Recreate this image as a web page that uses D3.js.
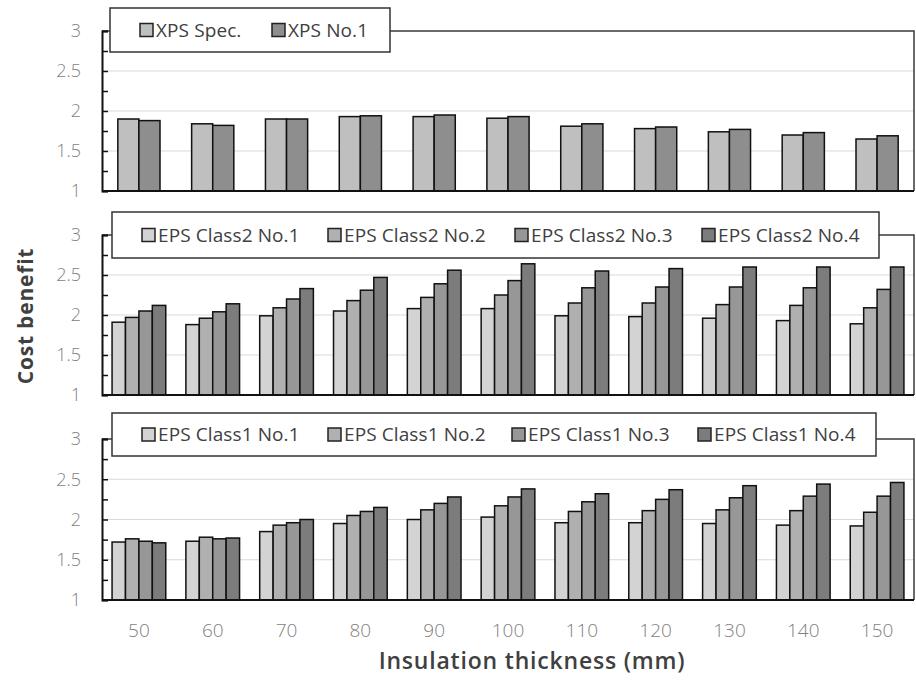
<!DOCTYPE html>
<html>
<head>
<meta charset="utf-8">
<script src="https://cdn.jsdelivr.net/npm/d3@7"></script>
<style>
  html, body { margin: 0; padding: 0; background: #fff; }
  svg { display: block; }
</style>
</head>
<body>
<svg id="chart" width="916" height="687"></svg>
<script>
// ---------- DATA ----------
const thickness = ["50","60","70","80","90","100","110","120","130","140","150"];
const yTicks = [1, 1.5, 2, 2.5, 3];

const xpsNames = ["XPS Spec.", "XPS No.1"];
const xpsSpec = [1.90,1.84,1.90,1.93,1.93,1.91,1.81,1.78,1.74,1.70,1.65];
const xpsNo1  = [1.88,1.82,1.90,1.94,1.95,1.93,1.84,1.80,1.77,1.73,1.69];

const eps2Names = ["EPS Class2 No.1","EPS Class2 No.2","EPS Class2 No.3","EPS Class2 No.4"];
const eps2No1 = [1.91,1.88,1.99,2.05,2.08,2.08,1.99,1.98,1.96,1.93,1.89];
const eps2No2 = [1.97,1.96,2.09,2.18,2.22,2.25,2.15,2.15,2.13,2.12,2.09];
const eps2No3 = [2.05,2.04,2.20,2.31,2.39,2.43,2.34,2.35,2.35,2.34,2.32];
const eps2No4 = [2.12,2.14,2.33,2.47,2.56,2.64,2.55,2.58,2.60,2.60,2.60];

const eps1Names = ["EPS Class1 No.1","EPS Class1 No.2","EPS Class1 No.3","EPS Class1 No.4"];
const eps1No1 = [1.72,1.73,1.85,1.95,2.00,2.03,1.96,1.96,1.95,1.93,1.92];
const eps1No2 = [1.76,1.78,1.93,2.05,2.12,2.17,2.10,2.11,2.12,2.11,2.09];
const eps1No3 = [1.73,1.76,1.96,2.10,2.20,2.28,2.22,2.25,2.27,2.29,2.29];
const eps1No4 = [1.71,1.77,2.00,2.15,2.28,2.38,2.32,2.37,2.42,2.44,2.46];

// ---------- LAYOUT ----------
const svg = d3.select("#chart");
const left = 102, right = 914;
const FONT = "'Open Sans', 'Noto Sans', sans-serif";

const panels = [
  { names: xpsNames, series: [xpsSpec, xpsNo1], colors: ["#bfbfbf", "#8e8e8e"],
    top: 31, bottom: 191, legend: { x: 110, y: 8, w: 280, h: 44, items: [140, 272] } },
  { names: eps2Names, series: [eps2No1, eps2No2, eps2No3, eps2No4],
    colors: ["#d3d3d3", "#b0b0b0", "#979797", "#7c7c7c"],
    top: 235, bottom: 395, legend: { x: 112, y: 212, w: 767, h: 46, items: [142, 328, 515, 702] } },
  { names: eps1Names, series: [eps1No1, eps1No2, eps1No3, eps1No4],
    colors: ["#d3d3d3", "#b0b0b0", "#979797", "#7c7c7c"],
    top: 439, bottom: 600, legend: { x: 112, y: 413, w: 764, h: 43, items: [142, 328, 512, 698] } }
];

const x0 = d3.scaleBand().domain(thickness).range([left, right]).padding(0);
const bw = x0.bandwidth();

panels.forEach(p => {
  const g = svg.append("g");
  const y = d3.scaleLinear().domain([1, 3]).range([p.bottom, p.top]);
  const n = p.series.length;
  const w = bw / (n + 1.5);
  const x1 = d3.scaleBand().domain(d3.range(n)).range([(bw - n * w) / 2, (bw + n * w) / 2]).padding(0);

  // gridlines
  g.append("g").selectAll("line").data(yTicks.filter(t => t > 1 && t < 3)).join("line")
    .attr("x1", left).attr("x2", right)
    .attr("y1", d => y(d)).attr("y2", d => y(d))
    .attr("stroke", "#d9d9d9").attr("stroke-width", 1.2);

  // plot border (top + right)
  g.append("path")
    .attr("d", `M${left},${y(3)}H${right}V${y(1)}`)
    .attr("fill", "none").attr("stroke", "#3a3a3a").attr("stroke-width", 1.5);

  // bars
  const rows = thickness.map((t, i) => ({ t, vals: p.series.map(s => s[i]) }));
  g.append("g").selectAll("g").data(rows).join("g")
    .attr("transform", d => `translate(${x0(d.t)},0)`)
    .selectAll("rect").data(d => d.vals.map((v, k) => ({ v, k }))).join("rect")
    .attr("x", d => x1(d.k)).attr("width", x1.bandwidth())
    .attr("y", d => y(d.v)).attr("height", d => y(1) - y(d.v))
    .attr("fill", d => p.colors[d.k]).attr("stroke", "#111").attr("stroke-width", 1.5);

  // y axis with inner minor ticks
  const yAxis = d3.axisRight(y).tickValues(d3.range(1, 3.01, 0.25)).tickSize(6).tickFormat("");
  const ya = g.append("g").attr("transform", `translate(${left},0)`).call(yAxis);
  ya.select(".domain").attr("stroke", "#111").attr("stroke-width", 2);
  ya.selectAll(".tick line").attr("stroke", "#111").attr("stroke-width", 1.5);

  // y tick labels
  const yl = d3.axisLeft(y).tickValues(yTicks).tickSize(0).tickPadding(0).tickFormat(d3.format("~g"));
  const yla = g.append("g").attr("transform", `translate(81,0)`).call(yl);
  yla.select(".domain").remove();
  yla.selectAll("text").attr("font-family", FONT).attr("font-weight", 300)
    .attr("font-size", 18).attr("fill", "#7f7f7f");

  // baseline
  g.append("line").attr("x1", left).attr("x2", right)
    .attr("y1", y(1)).attr("y2", y(1)).attr("stroke", "#111").attr("stroke-width", 2);

  // legend
  const L = p.legend;
  const lg = g.append("g");
  lg.append("rect").attr("x", L.x).attr("y", L.y).attr("width", L.w).attr("height", L.h)
    .attr("fill", "#fff").attr("stroke", "#333").attr("stroke-width", 1.5);
  const cy = L.y + L.h / 2;
  p.names.forEach((nm, k) => {
    lg.append("rect").attr("x", L.items[k]).attr("y", cy - 6.5).attr("width", 13).attr("height", 13)
      .attr("fill", p.colors[k]).attr("stroke", "#222").attr("stroke-width", 1.5);
    lg.append("text").attr("x", L.items[k] + 16).attr("y", cy).attr("dy", "0.35em")
      .attr("font-family", FONT).attr("font-size", 19).attr("letter-spacing", 0.1)
      .attr("fill", "#404040").text(nm);
  });
});

// x tick labels
const xa = svg.append("g").attr("transform", `translate(0,623)`)
  .call(d3.axisBottom(x0).tickSize(0).tickPadding(0));
xa.select(".domain").remove();
xa.selectAll("text").attr("font-family", FONT).attr("font-weight", 300)
  .attr("font-size", 19).attr("fill", "#7f7f7f").attr("dy", "0.71em");

// axis titles
svg.append("text").attr("transform", "translate(33,316) rotate(-90)")
  .attr("text-anchor", "middle").attr("font-family", FONT).attr("font-weight", 700)
  .attr("font-size", 21).attr("letter-spacing", 0.8).attr("fill", "#404040").text("Cost benefit");
svg.append("text").attr("x", 532).attr("y", 669)
  .attr("text-anchor", "middle").attr("font-family", FONT).attr("font-weight", 600)
  .attr("font-size", 23).attr("letter-spacing", 0.8).attr("fill", "#404040").text("Insulation thickness (mm)");
</script>
</body>
</html>
